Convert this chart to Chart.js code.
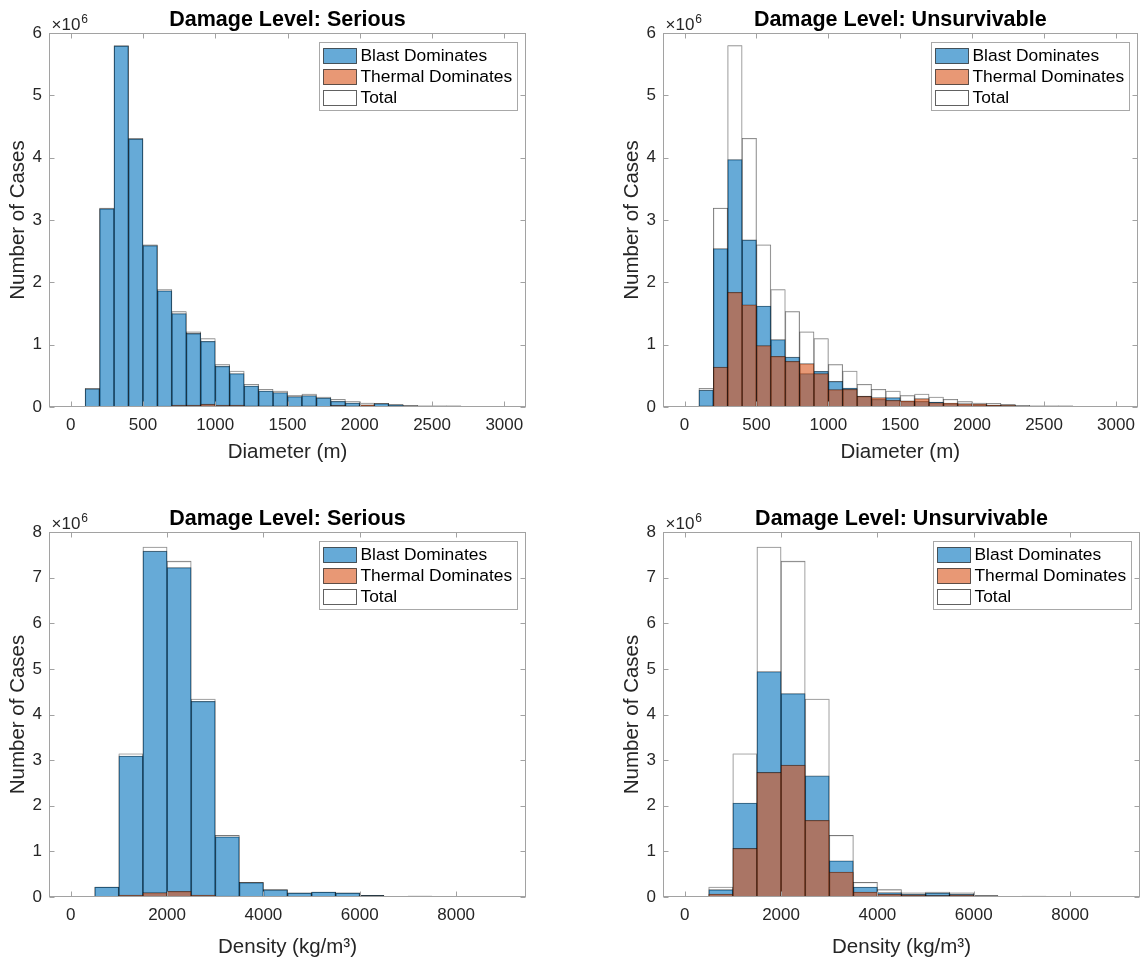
<!doctype html>
<html>
  <head>
    <meta charset="utf-8" />
    <title>Damage Level histograms</title>
    <script src="https://cdn.jsdelivr.net/npm/chart.js"></script>
    <style>
      body { margin: 0; background: #fff; }
      #page { position: relative; width: 1143px; height: 961px; }
      canvas { position: absolute; }
    </style>
  </head>
  <body>
    <div id="page">
      <canvas id="diam-serious" width="571" height="480" style="left: 0; top: 0"></canvas>
      <canvas id="diam-unsurv" width="572" height="480" style="left: 571px; top: 0"></canvas>
      <canvas id="dens-serious" width="571" height="481" style="left: 0; top: 480px"></canvas>
      <canvas id="dens-unsurv" width="572" height="481" style="left: 571px; top: 480px"></canvas>
    </div>
    <script>
      // bin centres (bins are 100 m wide for diameter, 500 kg/m3 wide for density)
      const diameterBins = [150, 250, 350, 450, 550, 650, 750, 850, 950, 1050, 1150, 1250, 1350, 1450, 1550,
        1650, 1750, 1850, 1950, 2050, 2150, 2250, 2350, 2450, 2550, 2650, 2750, 2850, 2950];
      const densityBins = [750, 1250, 1750, 2250, 2750, 3250, 3750, 4250, 4750, 5250, 5750, 6250, 6750, 7250, 7750, 8250];

      const diameterTicks = [0, 500, 1000, 1500, 2000, 2500, 3000];
      const densityTicks = [0, 2000, 4000, 6000, 8000];

      // counts, in millions of cases
      const diameterTotal = [0.30, 3.19, 5.80, 4.31, 2.60, 1.885, 1.53, 1.205, 1.098, 0.68, 0.578, 0.364, 0.284, 0.257,
        0.182, 0.209, 0.16, 0.123, 0.086, 0.064, 0.059, 0.043, 0.027, 0.02, 0.02, 0.02, 0.01, 0.003, 0.01];
      const diameterSeriousBlast = [0.29, 3.18, 5.79, 4.30, 2.59, 1.865, 1.50, 1.18, 1.055, 0.653, 0.536, 0.337, 0.257,
        0.23, 0.166, 0.182, 0.145, 0.091, 0.064, 0.03, 0.054, 0.032, 0.02, 0.016, 0.016, 0.014, 0.006, 0.002, 0.006];
      const diameterSeriousThermal = [0.002, 0.004, 0.006, 0.008, 0.01, 0.015, 0.03, 0.03, 0.045, 0.03, 0.03, 0.02, 0.02,
        0.02, 0.015, 0.02, 0.012, 0.025, 0.02, 0.035, 0.005, 0.008, 0.005, 0.004, 0.004, 0.006, 0.004, 0.001, 0.004];
      const diameterUnsurvBlast = [0.27, 2.54, 3.97, 2.68, 1.62, 1.08, 0.80, 0.536, 0.573, 0.41, 0.305, 0.177, 0.123,
        0.15, 0.091, 0.09, 0.08, 0.05, 0.04, 0.03, 0.025, 0.02, 0.015, 0.016, 0.016, 0.004, 0.006, 0.002, 0.006];
      const diameterUnsurvThermal = [0.02, 0.64, 1.84, 1.64, 0.985, 0.814, 0.734, 0.696, 0.536, 0.28, 0.284, 0.171, 0.15,
        0.107, 0.10, 0.134, 0.07, 0.064, 0.054, 0.048, 0.032, 0.027, 0.012, 0.004, 0.004, 0.016, 0.004, 0.001, 0.004];

      const densityTotal = [0.22, 3.14, 7.67, 7.36, 4.34, 1.35, 0.32, 0.16, 0.09, 0.11, 0.09, 0.036, 0.01, 0.02, 0.01, 0.01];
      const densitySeriousBlast = [0.22, 3.09, 7.58, 7.22, 4.29, 1.32, 0.315, 0.155, 0.088, 0.108, 0.088, 0.035, 0.01,
        0.02, 0.01, 0.01];
      const densitySeriousThermal = [0.003, 0.044, 0.095, 0.124, 0.044, 0.02, 0.005, 0.003, 0.002, 0.002, 0.002, 0.001,
        0, 0.001, 0, 0];
      const densityUnsurvBlast = [0.16, 2.06, 4.94, 4.46, 2.655, 0.795, 0.22, 0.095, 0.058, 0.088, 0.06, 0.02, 0.006,
        0.012, 0.005, 0.004];
      const densityUnsurvThermal = [0.066, 1.065, 2.73, 2.89, 1.68, 0.547, 0.11, 0.058, 0.044, 0.036, 0.044, 0.012, 0.004,
        0.008, 0.004, 0.002];

      const FONT = "'Liberation Sans', Arial, Helvetica, sans-serif";
      const TEXT = "#262626";
      Chart.defaults.font.family = FONT;
      Chart.defaults.color = TEXT;

      // MATLAB-ish axes box, inward ticks, x10^6 factor, title and the legend inside the axes
      const frame = {
        id: "frame",
        afterDraw(chart, args, opts) {
          const { ctx, chartArea: a } = chart;
          const x = chart.scales.x;
          const y = chart.scales.y;
          const L = Math.round(a.left) + 0.5;
          const R = Math.round(a.right) - 0.5;
          const T = Math.round(a.top) + 0.5;
          const B = Math.round(a.bottom) - 0.5;
          ctx.save();
          ctx.strokeStyle = "#a2a2a2";
          ctx.lineWidth = 1;
          ctx.strokeRect(L, T, R - L, B - T);
          ctx.beginPath();
          x.ticks.forEach((t) => {
            const px = Math.round(x.getPixelForValue(t.value)) + 0.5;
            ctx.moveTo(px, B);
            ctx.lineTo(px, B - 5);
            ctx.moveTo(px, T);
            ctx.lineTo(px, T + 5);
          });
          y.ticks.forEach((t) => {
            const py = Math.round(y.getPixelForValue(t.value)) + 0.5;
            ctx.moveTo(L, py);
            ctx.lineTo(L + 5, py);
            ctx.moveTo(R, py);
            ctx.lineTo(R - 5, py);
          });
          ctx.stroke();

          // exponent
          ctx.fillStyle = TEXT;
          ctx.textAlign = "left";
          ctx.textBaseline = "alphabetic";
          ctx.font = "17px " + FONT;
          ctx.fillText("×10", a.left + 2.5, a.top - 3.5);
          const w = ctx.measureText("×10").width;
          ctx.font = "12px " + FONT;
          ctx.fillText("6", a.left + 2.5 + w + 1, a.top - 10.5);

          // title
          ctx.fillStyle = "#000";
          ctx.textAlign = "center";
          ctx.font = "bold 21.5px " + FONT;
          ctx.fillText(opts.title, (a.left + a.right) / 2, a.top - 7);

          // legend
          const ds = chart.data.datasets;
          ctx.font = "17.4px " + FONT;
          const tw = Math.max(...ds.map((d) => ctx.measureText(d.label).width));
          const bw = Math.round(41 + tw + 5.5);
          const bh = 68;
          const bx = Math.round(a.right - 9 - bw) + 0.5;
          const by = Math.round(a.top + 9) + 0.5;
          ctx.fillStyle = "#fff";
          ctx.fillRect(bx, by, bw, bh);
          ctx.strokeStyle = "#a8a8a8";
          ctx.strokeRect(bx, by, bw, bh);
          ds.forEach((d, i) => {
            const sy = Math.round(by + 5 + i * 21.2) + 0.5;
            ctx.fillStyle = d.backgroundColor;
            ctx.fillRect(bx + 4, sy, 33, 15);
            ctx.strokeStyle = d.borderColor;
            ctx.strokeRect(bx + 4, sy, 33, 15);
            ctx.fillStyle = "#000";
            ctx.textAlign = "left";
            ctx.textBaseline = "middle";
            ctx.fillText(d.label, bx + 41, sy + 8);
          });
          ctx.restore();
        },
      };

      function bars(label, bins, values, color, order) {
        return {
          label: label,
          data: bins.map((b, i) => ({ x: b, y: values[i] })),
          backgroundColor: color,
          borderColor: "rgba(0, 0, 0, 0.62)",
          borderWidth: 0.6,
          borderSkipped: false,
          grouped: false,
          barPercentage: 1,
          categoryPercentage: 1,
          order: order,
        };
      }

      function histogram(id, cfg) {
        new Chart(document.getElementById(id), {
          type: "bar",
          data: {
            datasets: [
              bars("Blast Dominates", cfg.bins, cfg.blast, "rgba(0, 114, 189, 0.6)", 2),
              bars("Thermal Dominates", cfg.bins, cfg.thermal, "rgba(217, 83, 25, 0.6)", 1),
              bars("Total", cfg.bins, cfg.total, "rgba(255, 255, 255, 0.6)", 3),
            ],
          },
          plugins: [frame],
          options: {
            responsive: false,
            animation: false,
            layout: { padding: cfg.padding },
            plugins: {
              legend: { display: false },
              tooltip: { enabled: false },
              frame: { title: cfg.title },
            },
            scales: {
              x: {
                type: "linear",
                offset: false,
                min: cfg.xMin,
                max: cfg.xMax,
                afterBuildTicks: (s) => {
                  s.ticks = cfg.ticks.map((v) => ({ value: v }));
                },
                afterFit: (s) => {
                  s.height = cfg.xHeight;
                },
                grid: { display: false, drawTicks: false },
                border: { display: false },
                ticks: { padding: 8, font: { size: 17 }, maxRotation: 0, autoSkip: false, callback: (v) => String(v) },
                title: {
                  display: true,
                  text: cfg.xLabel,
                  font: { size: 20.5 },
                  padding: { top: 0, bottom: cfg.xTitlePad },
                },
              },
              y: {
                min: 0,
                max: cfg.yMax,
                afterFit: (s) => {
                  s.width = 49;
                },
                grid: { display: false, drawTicks: false },
                border: { display: false },
                ticks: { stepSize: 1, padding: 7, font: { size: 17 } },
                title: {
                  display: true,
                  text: "Number of Cases",
                  font: { size: 20.5 },
                  padding: { top: 6, bottom: 0 },
                },
              },
            },
          },
        });
      }

      histogram("diam-serious", {
        title: "Damage Level: Serious",
        bins: diameterBins, ticks: diameterTicks, xMin: -150, xMax: 3150, yMax: 6,
        total: diameterTotal, blast: diameterSeriousBlast, thermal: diameterSeriousThermal,
        xLabel: "Diameter (m)", xHeight: 73, xTitlePad: 15,
        padding: { left: 0, top: 33, right: 45, bottom: 0 },
      });
      histogram("diam-unsurv", {
        title: "Damage Level: Unsurvivable",
        bins: diameterBins, ticks: diameterTicks, xMin: -150, xMax: 3150, yMax: 6,
        total: diameterTotal, blast: diameterUnsurvBlast, thermal: diameterUnsurvThermal,
        xLabel: "Diameter (m)", xHeight: 73, xTitlePad: 15,
        padding: { left: 43, top: 33, right: 3, bottom: 0 },
      });
      histogram("dens-serious", {
        title: "Damage Level: Serious",
        bins: densityBins, ticks: densityTicks, xMin: -450, xMax: 9450, yMax: 8,
        total: densityTotal, blast: densitySeriousBlast, thermal: densitySeriousThermal,
        xLabel: "Density (kg/m³)", xHeight: 64, xTitlePad: 1,
        padding: { left: 0, top: 52, right: 45, bottom: 0 },
      });
      histogram("dens-unsurv", {
        title: "Damage Level: Unsurvivable",
        bins: densityBins, ticks: densityTicks, xMin: -450, xMax: 9450, yMax: 8,
        total: densityTotal, blast: densityUnsurvBlast, thermal: densityUnsurvThermal,
        xLabel: "Density (kg/m³)", xHeight: 64, xTitlePad: 1,
        padding: { left: 43, top: 52, right: 3, bottom: 0 },
      });
    </script>
  </body>
</html>
